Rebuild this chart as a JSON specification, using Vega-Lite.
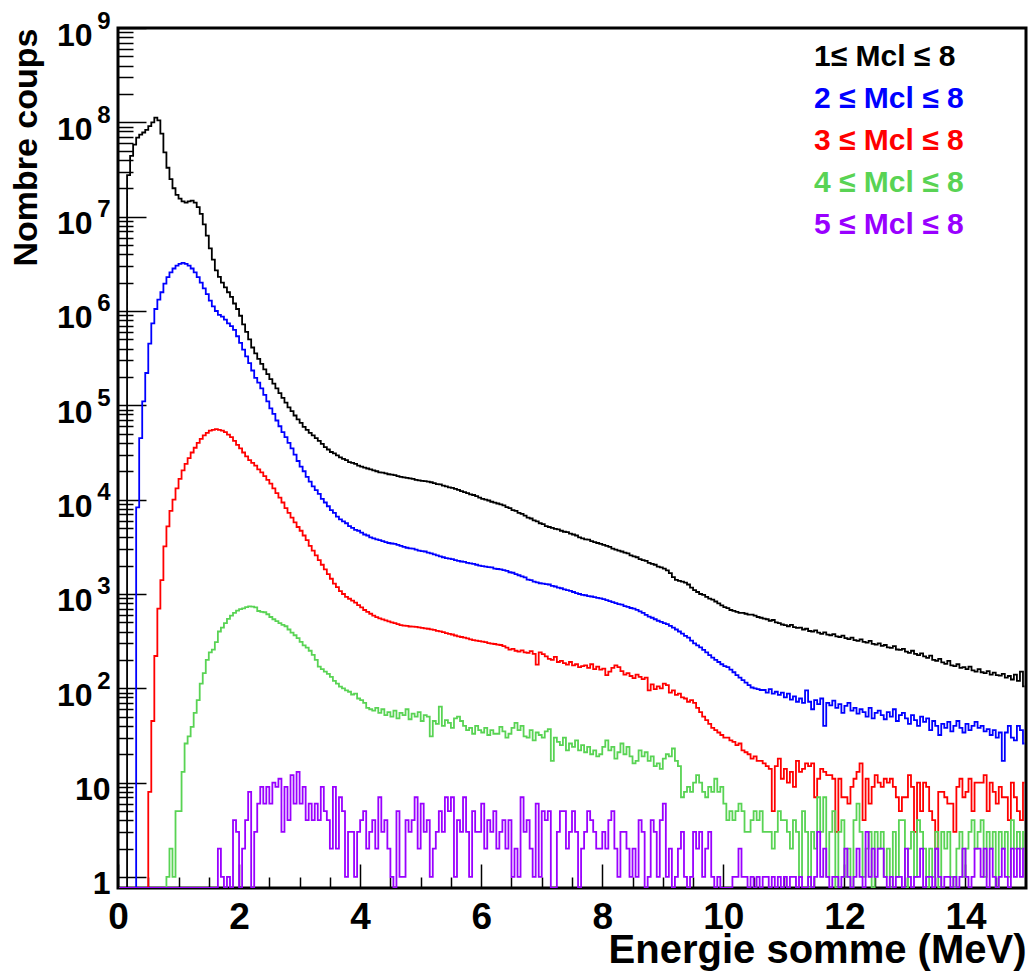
{
"$schema":"https://vega.github.io/schema/vega-lite/v6.json",
"width":908,"height":860,
"autosize":{"type":"none"},
"padding":{"left":118,"top":28,"right":4,"bottom":89},
"background":"white",
"config":{"view":{"stroke":"black","strokeWidth":3},"font":"Liberation Sans","axis":{"labelColor":"black","titleColor":"black","tickColor":"black","grid":false,"domain":false,"labelOverlap":false,"labelFlush":false}},
"data":{"values":[
{"e":0.025,"a":0,"b":0,"r":0,"g":0,"p":0},
{"e":0.075,"a":0,"b":0,"r":0,"g":0,"p":0},
{"e":0.125,"a":0,"b":0,"r":0,"g":0,"p":0},
{"e":0.175,"a":2.75e7,"b":0,"r":0,"g":0,"p":0},
{"e":0.225,"a":4.4e7,"b":0,"r":0,"g":0,"p":0},
{"e":0.275,"a":5.8e7,"b":0,"r":0,"g":0,"p":0},
{"e":0.325,"a":6.9e7,"b":8300,"r":0,"g":0,"p":0},
{"e":0.375,"a":7.4e7,"b":4.5e4,"r":0,"g":0,"p":0},
{"e":0.425,"a":7.8e7,"b":1.1e5,"r":0,"g":0,"p":0},
{"e":0.475,"a":8.3e7,"b":2.2e5,"r":0,"g":0,"p":0},
{"e":0.525,"a":9.1e7,"b":4.5e5,"r":8,"g":0,"p":0},
{"e":0.575,"a":1e8,"b":7.4e5,"r":45,"g":0,"p":0},
{"e":0.625,"a":1.12e8,"b":1.05e6,"r":220,"g":0,"p":0},
{"e":0.675,"a":1.05e8,"b":1.32e6,"r":700,"g":0,"p":0},
{"e":0.725,"a":7.6e7,"b":1.58e6,"r":1400,"g":0,"p":0},
{"e":0.775,"a":4.8e7,"b":1.95e6,"r":3200,"g":0,"p":0},
{"e":0.825,"a":3.3e7,"b":2.29e6,"r":5200,"g":1,"p":0},
{"e":0.875,"a":2.5e7,"b":2.57e6,"r":7600,"g":2,"p":0},
{"e":0.925,"a":2e7,"b":2.82e6,"r":1e4,"g":1,"p":0},
{"e":0.975,"a":1.7e7,"b":3.02e6,"r":1.32e4,"g":5,"p":0},
{"e":1.025,"a":1.55e7,"b":3.16e6,"r":1.66e4,"g":5,"p":0},
{"e":1.075,"a":1.45e7,"b":3.24e6,"r":2.04e4,"g":13,"p":0},
{"e":1.125,"a":1.41e7,"b":3.16e6,"r":2.4e4,"g":26,"p":0},
{"e":1.175,"a":1.45e7,"b":3.02e6,"r":2.75e4,"g":31,"p":0},
{"e":1.225,"a":1.48e7,"b":2.82e6,"r":3.16e4,"g":39,"p":0},
{"e":1.275,"a":1.41e7,"b":2.57e6,"r":3.55e4,"g":55,"p":0},
{"e":1.325,"a":1.26e7,"b":2.29e6,"r":4e4,"g":75,"p":0},
{"e":1.375,"a":1.07e7,"b":2e6,"r":4.4e4,"g":112,"p":0},
{"e":1.425,"a":8.3e6,"b":1.74e6,"r":4.8e4,"g":145,"p":0},
{"e":1.475,"a":6.3e6,"b":1.51e6,"r":5.1e4,"g":200,"p":0},
{"e":1.525,"a":4.6e6,"b":1.29e6,"r":5.4e4,"g":240,"p":0},
{"e":1.575,"a":3.5e6,"b":1.12e6,"r":5.5e4,"g":257,"p":0},
{"e":1.625,"a":2.7e6,"b":1e6,"r":5.6e4,"g":309,"p":0},
{"e":1.675,"a":2.3e6,"b":9.1e5,"r":5.5e4,"g":400,"p":2},
{"e":1.725,"a":2e6,"b":8.7e5,"r":5.4e4,"g":440,"p":1},
{"e":1.775,"a":1.78e6,"b":8.1e5,"r":5.2e4,"g":490,"p":0},
{"e":1.825,"a":1.58e6,"b":7.4e5,"r":4.9e4,"g":545,"p":1},
{"e":1.875,"a":1.41e6,"b":6.9e5,"r":4.6e4,"g":590,"p":0},
{"e":1.925,"a":1.2e6,"b":6.3e5,"r":4.2e4,"g":630,"p":4},
{"e":1.975,"a":1.05e6,"b":5.4e5,"r":3.8e4,"g":665,"p":3},
{"e":2.025,"a":8.9e5,"b":4.6e5,"r":3.5e4,"g":690,"p":0},
{"e":2.075,"a":7.2e5,"b":3.9e5,"r":3.16e4,"g":705,"p":2},
{"e":2.125,"a":6e5,"b":3.3e5,"r":2.88e4,"g":725,"p":4},
{"e":2.175,"a":5e5,"b":2.8e5,"r":2.63e4,"g":740,"p":8},
{"e":2.225,"a":4.1e5,"b":2.34e5,"r":2.45e4,"g":735,"p":0},
{"e":2.275,"a":3.55e5,"b":1.95e5,"r":2.29e4,"g":720,"p":3},
{"e":2.325,"a":3.1e5,"b":1.74e5,"r":2.09e4,"g":660,"p":6},
{"e":2.375,"a":2.75e5,"b":1.51e5,"r":1.95e4,"g":645,"p":9},
{"e":2.425,"a":2.4e5,"b":1.29e5,"r":1.78e4,"g":640,"p":6},
{"e":2.475,"a":2.14e5,"b":1.1e5,"r":1.62e4,"g":610,"p":9},
{"e":2.525,"a":1.9e5,"b":9.3e4,"r":1.48e4,"g":570,"p":6},
{"e":2.575,"a":1.7e5,"b":8.1e4,"r":1.32e4,"g":540,"p":10},
{"e":2.625,"a":1.51e5,"b":6.9e4,"r":1.17e4,"g":515,"p":9},
{"e":2.675,"a":1.35e5,"b":6e4,"r":1.05e4,"g":490,"p":11},
{"e":2.725,"a":1.2e5,"b":5.2e4,"r":9330,"g":470,"p":3},
{"e":2.775,"a":1.07e5,"b":4.6e4,"r":8130,"g":455,"p":9},
{"e":2.825,"a":9.5e4,"b":4e4,"r":7240,"g":420,"p":4},
{"e":2.875,"a":8.7e4,"b":3.5e4,"r":6460,"g":390,"p":12},
{"e":2.925,"a":7.8e4,"b":3e4,"r":5750,"g":365,"p":6},
{"e":2.975,"a":7.1e4,"b":2.57e4,"r":5130,"g":340,"p":13},
{"e":3.025,"a":6.5e4,"b":2.24e4,"r":4680,"g":310,"p":6},
{"e":3.075,"a":5.9e4,"b":2e4,"r":4170,"g":285,"p":9},
{"e":3.125,"a":5.5e4,"b":1.74e4,"r":3720,"g":270,"p":4},
{"e":3.175,"a":5.1e4,"b":1.55e4,"r":3240,"g":250,"p":6},
{"e":3.225,"a":4.8e4,"b":1.38e4,"r":2880,"g":226,"p":4},
{"e":3.275,"a":4.5e4,"b":1.26e4,"r":2570,"g":200,"p":6},
{"e":3.325,"a":4.2e4,"b":1.15e4,"r":2290,"g":170,"p":4},
{"e":3.375,"a":3.9e4,"b":1.02e4,"r":2040,"g":160,"p":9},
{"e":3.425,"a":3.6e4,"b":9330,"r":1820,"g":150,"p":5},
{"e":3.475,"a":3.4e4,"b":8510,"r":1620,"g":142,"p":4},
{"e":3.525,"a":3.2e4,"b":7760,"r":1450,"g":132,"p":2},
{"e":3.575,"a":3.1e4,"b":7240,"r":1290,"g":120,"p":9},
{"e":3.625,"a":2.95e4,"b":6610,"r":1180,"g":112,"p":2},
{"e":3.675,"a":2.8e4,"b":6170,"r":1070,"g":104,"p":7},
{"e":3.725,"a":2.7e4,"b":5890,"r":1000,"g":100,"p":5},
{"e":3.775,"a":2.63e4,"b":5620,"r":930,"g":95,"p":1},
{"e":3.825,"a":2.5e4,"b":5250,"r":890,"g":92,"p":3},
{"e":3.875,"a":2.45e4,"b":5010,"r":850,"g":86,"p":3},
{"e":3.925,"a":2.4e4,"b":4790,"r":810,"g":88,"p":1},
{"e":3.975,"a":2.3e4,"b":4680,"r":760,"g":78,"p":3},
{"e":4.025,"a":2.24e4,"b":4470,"r":720,"g":75,"p":4},
{"e":4.075,"a":2.19e4,"b":4270,"r":676,"g":70,"p":5},
{"e":4.125,"a":2.14e4,"b":4170,"r":646,"g":62,"p":2},
{"e":4.175,"a":2.09e4,"b":3980,"r":617,"g":60,"p":3},
{"e":4.225,"a":2.04e4,"b":3890,"r":589,"g":58,"p":4},
{"e":4.275,"a":2e4,"b":3800,"r":569,"g":62,"p":2},
{"e":4.325,"a":1.95e4,"b":3720,"r":550,"g":55,"p":7},
{"e":4.375,"a":1.93e4,"b":3630,"r":537,"g":60,"p":3},
{"e":4.425,"a":1.9e4,"b":3550,"r":525,"g":52,"p":4},
{"e":4.475,"a":1.86e4,"b":3470,"r":513,"g":56,"p":2},
{"e":4.525,"a":1.84e4,"b":3430,"r":501,"g":50,"p":1},
{"e":4.575,"a":1.82e4,"b":3390,"r":490,"g":58,"p":0},
{"e":4.625,"a":1.78e4,"b":3310,"r":479,"g":48,"p":5},
{"e":4.675,"a":1.74e4,"b":3240,"r":468,"g":55,"p":1},
{"e":4.725,"a":1.72e4,"b":3160,"r":462,"g":52,"p":1},
{"e":4.775,"a":1.7e4,"b":3090,"r":458,"g":60,"p":4},
{"e":4.825,"a":1.68e4,"b":3050,"r":452,"g":47,"p":3},
{"e":4.875,"a":1.66e4,"b":3020,"r":450,"g":54,"p":4},
{"e":4.925,"a":1.62e4,"b":2950,"r":447,"g":50,"p":7},
{"e":4.975,"a":1.6e4,"b":2880,"r":442,"g":56,"p":2},
{"e":5.025,"a":1.58e4,"b":2850,"r":437,"g":45,"p":6},
{"e":5.075,"a":1.57e4,"b":2820,"r":432,"g":52,"p":3},
{"e":5.125,"a":1.55e4,"b":2750,"r":428,"g":50,"p":4},
{"e":5.175,"a":1.53e4,"b":2690,"r":422,"g":31,"p":1},
{"e":5.225,"a":1.5e4,"b":2630,"r":417,"g":45,"p":2},
{"e":5.275,"a":1.46e4,"b":2570,"r":407,"g":42,"p":3},
{"e":5.325,"a":1.45e4,"b":2510,"r":402,"g":64,"p":5},
{"e":5.375,"a":1.41e4,"b":2450,"r":395,"g":40,"p":3},
{"e":5.425,"a":1.38e4,"b":2400,"r":385,"g":46,"p":7},
{"e":5.475,"a":1.35e4,"b":2370,"r":378,"g":43,"p":5},
{"e":5.525,"a":1.33e4,"b":2340,"r":372,"g":38,"p":7},
{"e":5.575,"a":1.3e4,"b":2290,"r":363,"g":48,"p":1},
{"e":5.625,"a":1.27e4,"b":2240,"r":355,"g":50,"p":4},
{"e":5.675,"a":1.23e4,"b":2210,"r":350,"g":45,"p":3},
{"e":5.725,"a":1.2e4,"b":2190,"r":345,"g":40,"p":7},
{"e":5.775,"a":1.17e4,"b":2140,"r":339,"g":36,"p":3},
{"e":5.825,"a":1.14e4,"b":2110,"r":331,"g":38,"p":1},
{"e":5.875,"a":1.12e4,"b":2090,"r":325,"g":33,"p":5},
{"e":5.925,"a":1.09e4,"b":2040,"r":320,"g":40,"p":3},
{"e":5.975,"a":1.05e4,"b":2000,"r":316,"g":36,"p":3},
{"e":6.025,"a":1.02e4,"b":1970,"r":313,"g":34,"p":6},
{"e":6.075,"a":1e4,"b":1950,"r":309,"g":38,"p":2},
{"e":6.125,"a":9800,"b":1930,"r":302,"g":32,"p":4},
{"e":6.175,"a":9500,"b":1910,"r":298,"g":36,"p":3},
{"e":6.225,"a":9300,"b":1860,"r":295,"g":33,"p":5},
{"e":6.275,"a":9100,"b":1840,"r":291,"g":33,"p":2},
{"e":6.325,"a":8900,"b":1820,"r":288,"g":39,"p":3},
{"e":6.375,"a":8710,"b":1790,"r":280,"g":35,"p":4},
{"e":6.425,"a":8320,"b":1760,"r":270,"g":30,"p":2},
{"e":6.475,"a":8130,"b":1700,"r":257,"g":33,"p":4},
{"e":6.525,"a":7760,"b":1680,"r":262,"g":38,"p":1},
{"e":6.575,"a":7590,"b":1620,"r":250,"g":43,"p":2},
{"e":6.625,"a":7240,"b":1580,"r":245,"g":36,"p":1},
{"e":6.675,"a":7080,"b":1540,"r":252,"g":40,"p":7},
{"e":6.725,"a":6760,"b":1500,"r":240,"g":31,"p":3},
{"e":6.775,"a":6460,"b":1420,"r":238,"g":30,"p":4},
{"e":6.825,"a":6310,"b":1400,"r":248,"g":36,"p":2},
{"e":6.875,"a":6030,"b":1350,"r":232,"g":28,"p":1},
{"e":6.925,"a":5890,"b":1330,"r":178,"g":34,"p":6},
{"e":6.975,"a":5620,"b":1300,"r":240,"g":32,"p":1},
{"e":7.025,"a":5500,"b":1290,"r":230,"g":30,"p":5},
{"e":7.075,"a":5250,"b":1270,"r":218,"g":35,"p":4},
{"e":7.125,"a":5130,"b":1260,"r":205,"g":37,"p":5},
{"e":7.175,"a":5010,"b":1220,"r":200,"g":17,"p":0},
{"e":7.225,"a":4900,"b":1200,"r":215,"g":30,"p":0},
{"e":7.275,"a":4850,"b":1170,"r":190,"g":27,"p":3},
{"e":7.325,"a":4680,"b":1150,"r":195,"g":25,"p":5},
{"e":7.375,"a":4570,"b":1120,"r":185,"g":30,"p":5},
{"e":7.425,"a":4520,"b":1100,"r":178,"g":22,"p":2},
{"e":7.475,"a":4370,"b":1080,"r":190,"g":26,"p":3},
{"e":7.525,"a":4270,"b":1050,"r":175,"g":24,"p":5},
{"e":7.575,"a":4170,"b":1020,"r":180,"g":28,"p":3},
{"e":7.625,"a":3980,"b":1000,"r":168,"g":22,"p":0},
{"e":7.675,"a":3890,"b":980,"r":172,"g":25,"p":2},
{"e":7.725,"a":3800,"b":970,"r":175,"g":21,"p":3},
{"e":7.775,"a":3760,"b":950,"r":165,"g":24,"p":5},
{"e":7.825,"a":3630,"b":940,"r":180,"g":20,"p":4},
{"e":7.875,"a":3550,"b":925,"r":160,"g":22,"p":3},
{"e":7.925,"a":3470,"b":910,"r":170,"g":19,"p":2},
{"e":7.975,"a":3390,"b":900,"r":158,"g":20,"p":2},
{"e":8.025,"a":3310,"b":880,"r":162,"g":24,"p":3},
{"e":8.075,"a":3240,"b":860,"r":138,"g":28,"p":2},
{"e":8.125,"a":3160,"b":840,"r":150,"g":22,"p":4},
{"e":8.175,"a":3020,"b":820,"r":165,"g":24,"p":5},
{"e":8.225,"a":2950,"b":800,"r":175,"g":18,"p":2},
{"e":8.275,"a":2880,"b":780,"r":168,"g":21,"p":1},
{"e":8.325,"a":2820,"b":770,"r":152,"g":26,"p":3},
{"e":8.375,"a":2750,"b":745,"r":140,"g":20,"p":3},
{"e":8.425,"a":2690,"b":730,"r":145,"g":24,"p":2},
{"e":8.475,"a":2570,"b":710,"r":135,"g":19,"p":1},
{"e":8.525,"a":2510,"b":700,"r":128,"g":16,"p":2},
{"e":8.575,"a":2450,"b":680,"r":140,"g":17,"p":1},
{"e":8.625,"a":2340,"b":655,"r":132,"g":22,"p":4},
{"e":8.675,"a":2290,"b":630,"r":125,"g":19,"p":3},
{"e":8.725,"a":2240,"b":600,"r":130,"g":21,"p":0},
{"e":8.775,"a":2140,"b":575,"r":95,"g":17,"p":1},
{"e":8.825,"a":2090,"b":560,"r":110,"g":19,"p":4},
{"e":8.875,"a":2040,"b":540,"r":98,"g":15,"p":3},
{"e":8.925,"a":1950,"b":520,"r":105,"g":16,"p":1},
{"e":8.975,"a":1910,"b":505,"r":100,"g":14,"p":4},
{"e":9.025,"a":1860,"b":490,"r":112,"g":18,"p":6},
{"e":9.075,"a":1780,"b":480,"r":108,"g":20,"p":1},
{"e":9.125,"a":1660,"b":460,"r":90,"g":19,"p":2},
{"e":9.175,"a":1510,"b":440,"r":95,"g":23,"p":0},
{"e":9.225,"a":1410,"b":420,"r":85,"g":17,"p":1},
{"e":9.275,"a":1380,"b":400,"r":88,"g":15,"p":2},
{"e":9.325,"a":1350,"b":380,"r":80,"g":7,"p":3},
{"e":9.375,"a":1320,"b":360,"r":78,"g":8,"p":1},
{"e":9.425,"a":1260,"b":345,"r":72,"g":9,"p":0},
{"e":9.475,"a":1170,"b":320,"r":75,"g":8,"p":1},
{"e":9.525,"a":1100,"b":300,"r":70,"g":10,"p":3},
{"e":9.575,"a":1050,"b":285,"r":62,"g":12,"p":2},
{"e":9.625,"a":1000,"b":272,"r":56,"g":10,"p":3},
{"e":9.675,"a":977,"b":255,"r":50,"g":8,"p":1},
{"e":9.725,"a":933,"b":240,"r":46,"g":7,"p":2},
{"e":9.775,"a":891,"b":225,"r":42,"g":9,"p":3},
{"e":9.825,"a":871,"b":212,"r":38,"g":8,"p":1},
{"e":9.875,"a":832,"b":200,"r":36,"g":11,"p":0},
{"e":9.925,"a":794,"b":190,"r":34,"g":8,"p":1},
{"e":9.975,"a":759,"b":180,"r":32,"g":9,"p":0},
{"e":10.025,"a":724,"b":172,"r":30,"g":6,"p":0},
{"e":10.075,"a":708,"b":168,"r":30,"g":4,"p":0},
{"e":10.125,"a":676,"b":158,"r":28,"g":5,"p":0},
{"e":10.175,"a":661,"b":148,"r":27,"g":4,"p":1},
{"e":10.225,"a":646,"b":138,"r":25,"g":5,"p":1},
{"e":10.275,"a":631,"b":130,"r":26,"g":6,"p":2},
{"e":10.325,"a":631,"b":122,"r":22,"g":5,"p":1},
{"e":10.375,"a":617,"b":115,"r":21,"g":3,"p":1},
{"e":10.425,"a":603,"b":108,"r":20,"g":3,"p":0},
{"e":10.475,"a":603,"b":102,"r":18,"g":4,"p":1},
{"e":10.525,"a":589,"b":100,"r":19,"g":5,"p":0},
{"e":10.575,"a":570,"b":98,"r":17,"g":4,"p":1},
{"e":10.625,"a":560,"b":96,"r":17,"g":5,"p":0},
{"e":10.675,"a":548,"b":96,"r":16,"g":3,"p":1},
{"e":10.725,"a":540,"b":90,"r":15,"g":3,"p":1},
{"e":10.775,"a":520,"b":98,"r":14,"g":3,"p":0},
{"e":10.825,"a":530,"b":88,"r":5,"g":2,"p":1},
{"e":10.875,"a":500,"b":92,"r":15,"g":3,"p":0},
{"e":10.925,"a":490,"b":85,"r":18,"g":5,"p":1},
{"e":10.975,"a":475,"b":90,"r":11,"g":4,"p":0},
{"e":11.025,"a":468,"b":80,"r":14,"g":4,"p":1},
{"e":11.075,"a":455,"b":88,"r":10,"g":3,"p":0},
{"e":11.125,"a":470,"b":76,"r":13,"g":2,"p":1},
{"e":11.175,"a":445,"b":82,"r":9,"g":4,"p":1},
{"e":11.225,"a":438,"b":72,"r":17,"g":3,"p":0},
{"e":11.275,"a":440,"b":78,"r":13,"g":1,"p":1},
{"e":11.325,"a":420,"b":70,"r":14,"g":5,"p":0},
{"e":11.375,"a":428,"b":95,"r":16,"g":3,"p":0},
{"e":11.425,"a":405,"b":72,"r":15,"g":0,"p":1},
{"e":11.475,"a":400,"b":60,"r":16,"g":3,"p":0},
{"e":11.525,"a":412,"b":75,"r":7,"g":2,"p":1},
{"e":11.575,"a":390,"b":68,"r":11,"g":7,"p":3},
{"e":11.625,"a":378,"b":78,"r":14,"g":3,"p":1},
{"e":11.675,"a":392,"b":40,"r":13,"g":7,"p":2},
{"e":11.725,"a":370,"b":70,"r":12,"g":1,"p":1},
{"e":11.775,"a":365,"b":66,"r":12,"g":3,"p":0},
{"e":11.825,"a":375,"b":74,"r":11,"g":5,"p":1},
{"e":11.875,"a":355,"b":62,"r":3,"g":0,"p":1},
{"e":11.925,"a":350,"b":68,"r":11,"g":3,"p":0},
{"e":11.975,"a":362,"b":55,"r":7,"g":4,"p":1},
{"e":12.025,"a":340,"b":65,"r":7,"g":1,"p":2},
{"e":12.075,"a":332,"b":70,"r":6,"g":2,"p":1},
{"e":12.125,"a":345,"b":58,"r":9,"g":0,"p":0},
{"e":12.175,"a":325,"b":62,"r":11,"g":4,"p":1},
{"e":12.225,"a":318,"b":54,"r":13,"g":6,"p":2},
{"e":12.275,"a":330,"b":60,"r":16,"g":3,"p":1},
{"e":12.325,"a":310,"b":56,"r":4,"g":1,"p":0},
{"e":12.375,"a":305,"b":50,"r":11,"g":2,"p":3},
{"e":12.425,"a":318,"b":62,"r":6,"g":3,"p":1},
{"e":12.475,"a":296,"b":48,"r":9,"g":0,"p":2},
{"e":12.525,"a":290,"b":55,"r":12,"g":3,"p":1},
{"e":12.575,"a":300,"b":58,"r":10,"g":2,"p":2},
{"e":12.625,"a":282,"b":52,"r":9,"g":3,"p":2},
{"e":12.675,"a":288,"b":47,"r":11,"g":1,"p":1},
{"e":12.725,"a":272,"b":56,"r":10,"g":2,"p":0},
{"e":12.775,"a":268,"b":50,"r":11,"g":0,"p":1},
{"e":12.825,"a":280,"b":60,"r":9,"g":3,"p":0},
{"e":12.875,"a":258,"b":45,"r":7,"g":1,"p":1},
{"e":12.925,"a":255,"b":52,"r":5,"g":4,"p":1},
{"e":12.975,"a":262,"b":55,"r":7,"g":4,"p":0},
{"e":13.025,"a":245,"b":48,"r":7,"g":0,"p":2},
{"e":13.075,"a":238,"b":42,"r":12,"g":2,"p":1},
{"e":13.125,"a":250,"b":52,"r":9,"g":3,"p":0},
{"e":13.175,"a":232,"b":46,"r":3,"g":1,"p":1},
{"e":13.225,"a":225,"b":40,"r":10,"g":4,"p":1},
{"e":13.275,"a":235,"b":50,"r":5,"g":3,"p":2},
{"e":13.325,"a":218,"b":44,"r":10,"g":2,"p":0},
{"e":13.375,"a":210,"b":48,"r":9,"g":0,"p":1},
{"e":13.425,"a":222,"b":36,"r":5,"g":2,"p":1},
{"e":13.475,"a":200,"b":45,"r":4,"g":1,"p":0},
{"e":13.525,"a":196,"b":40,"r":2,"g":3,"p":2},
{"e":13.575,"a":205,"b":32,"r":8,"g":0,"p":1},
{"e":13.625,"a":188,"b":42,"r":8,"g":3,"p":0},
{"e":13.675,"a":182,"b":38,"r":7,"g":2,"p":1},
{"e":13.725,"a":195,"b":44,"r":6,"g":3,"p":1},
{"e":13.775,"a":175,"b":35,"r":6,"g":1,"p":0},
{"e":13.825,"a":172,"b":40,"r":3,"g":0,"p":1},
{"e":13.875,"a":180,"b":45,"r":9,"g":2,"p":0},
{"e":13.925,"a":165,"b":38,"r":11,"g":3,"p":1},
{"e":13.975,"a":168,"b":34,"r":7,"g":1,"p":2},
{"e":14.025,"a":160,"b":42,"r":8,"g":2,"p":1},
{"e":14.075,"a":170,"b":36,"r":11,"g":3,"p":0},
{"e":14.125,"a":155,"b":40,"r":5,"g":4,"p":1},
{"e":14.175,"a":150,"b":44,"r":10,"g":2,"p":2},
{"e":14.225,"a":160,"b":38,"r":10,"g":3,"p":2},
{"e":14.275,"a":148,"b":40,"r":10,"g":4,"p":1},
{"e":14.325,"a":145,"b":35,"r":12,"g":1,"p":2},
{"e":14.375,"a":152,"b":37,"r":5,"g":3,"p":0},
{"e":14.425,"a":140,"b":32,"r":10,"g":2,"p":2},
{"e":14.475,"a":147,"b":36,"r":8,"g":3,"p":1},
{"e":14.525,"a":138,"b":30,"r":6,"g":0,"p":0},
{"e":14.575,"a":136,"b":34,"r":9,"g":3,"p":1},
{"e":14.625,"a":142,"b":17,"r":7,"g":2,"p":2},
{"e":14.675,"a":130,"b":34,"r":7,"g":3,"p":1},
{"e":14.725,"a":135,"b":40,"r":4,"g":1,"p":0},
{"e":14.775,"a":124,"b":30,"r":10,"g":4,"p":2},
{"e":14.825,"a":140,"b":28,"r":7,"g":2,"p":1},
{"e":14.875,"a":120,"b":40,"r":5,"g":3,"p":2},
{"e":14.925,"a":150,"b":36,"r":4,"g":2,"p":1},
{"e":14.975,"a":105,"b":26,"r":10,"g":3,"p":2}
]},
"layer":[
{"transform":[{"fold":["a","b","r","g","p"],"as":["s","n"]}],
 "mark":{"type":"line","interpolate":"step","strokeWidth":1.8,"clip":true,"invalid":"show"},
 "encoding":{
 "x":{"field":"e","type":"quantitative","scale":{"domain":[0,15],"nice":false,"zero":false},
  "axis":{"orient":"bottom","values":[0,2,4,6,8,10,12,14],"format":"d",
   "title":"Energie somme (MeV)","titleFontSize":40,"titleFontWeight":"bold","titleAlign":"right","titleAnchor":"end","titleX":908,"titleY":74,"titleBaseline":"alphabetic",
   "labelFontSize":37,"labelFontWeight":"bold","labelPadding":35,"tickSize":-24,"tickWidth":1.5}},
 "y":{"field":"n","type":"quantitative","scale":{"type":"log","domain":[0.764,1e9],"nice":false,"clamp":true},
  "axis":{"orient":"left","values":[1,10,100,1000,10000,100000,1000000,10000000,100000000,1000000000],
   "title":"Nombre coups","titleFontSize":34,"titleFontWeight":"bold","titleAngle":-90,"titleAlign":"right","titleX":-82,"titleY":0,"titleBaseline":"alphabetic",
   "labelExpr":"datum.value == 1 ? '1' : datum.value == 10 ? '10' : ''",
   "labelFontSize":32,"labelFontWeight":"bold","labelPadding":36,"labelOffset":7,"labelBaseline":"middle","labelAlign":"right","tickSize":-28,"tickWidth":1.5}},
 "color":{"field":"s","type":"nominal",
  "scale":{"domain":["a","b","r","g","p"],"range":["#000000","#0000ff","#ff0000","#59d354","#9900ff"]},
  "legend":{"orient":"none","legendX":666,"legendY":14,"title":null,"padding":0,
   "labelExpr":"{'a':'1≤ Mcl ≤ 8','b':'2 ≤ Mcl ≤ 8','r':'3 ≤ Mcl ≤ 8','g':'4 ≤ Mcl ≤ 8','p':'5 ≤ Mcl ≤ 8'}[datum.value]",
   "labelFontSize":30,"labelFontWeight":"bold","labelLimit":400,"labelOffset":0,"rowPadding":12,
   "symbolSize":0,"symbolStrokeWidth":0,"symbolOpacity":0,
   "encode":{"labels":{"update":{"fill":{"signal":"scale('color', datum.value)"}}}}}}}},
{"mark":{"type":"line","opacity":0},
 "encoding":{
 "x":{"field":"e","type":"quantitative","scale":{"domain":[0,15],"nice":false,"zero":false},
  "axis":{"orient":"bottom","values":[0.5,1,1.5,2.5,3,3.5,4.5,5,5.5,6.5,7,7.5,8.5,9,9.5,10.5,11,11.5,12.5,13,13.5,14.5],"labels":false,"title":null,"tickSize":-11,"tickWidth":1.5}},
 "y":{"field":"a","type":"quantitative","scale":{"type":"log","domain":[0.764,1e9],"nice":false,"clamp":true},
  "axis":{"orient":"left","values":[2,3,4,5,6,7,8,9,20,30,40,50,60,70,80,90,200,300,400,500,600,700,800,900,2000,3000,4000,5000,6000,7000,8000,9000,20000,30000,40000,50000,60000,70000,80000,90000,200000,300000,400000,500000,600000,700000,800000,900000,2000000,3000000,4000000,5000000,6000000,7000000,8000000,9000000,20000000,30000000,40000000,50000000,60000000,70000000,80000000,90000000,200000000,300000000,400000000,500000000,600000000,700000000,800000000,900000000],"labels":false,"title":null,"tickSize":-15,"tickWidth":1.5}}}},
{"mark":{"type":"line","opacity":0},
 "encoding":{
 "x":{"field":"e","type":"quantitative","scale":{"domain":[0,15],"nice":false,"zero":false},"axis":null},
 "y":{"field":"a","type":"quantitative","scale":{"type":"log","domain":[0.764,1e9],"nice":false,"clamp":true},
  "axis":{"orient":"left","values":[100,1000,10000,100000,1000000,10000000,100000000,1000000000],"ticks":false,"title":null,
   "labelExpr":"'10'","labelFontSize":32,"labelFontWeight":"bold","labelPadding":26,"labelOffset":7,"labelBaseline":"middle","labelAlign":"right"}}}},
{"mark":{"type":"line","opacity":0},
 "encoding":{
 "x":{"field":"e","type":"quantitative","scale":{"domain":[0,15],"nice":false,"zero":false},"axis":null},
 "y":{"field":"a","type":"quantitative","scale":{"type":"log","domain":[0.764,1e9],"nice":false,"clamp":true},
  "axis":{"orient":"left","values":[100,1000,10000,100000,1000000,10000000,100000000,1000000000],"ticks":false,"title":null,
   "labelExpr":"format(round(log(datum.value)/LN10), 'd')","labelFontSize":24,"labelFontWeight":"bold","labelPadding":8,"labelOffset":-7,"labelBaseline":"middle","labelAlign":"right"}}}}
],
"resolve":{"axis":{"x":"independent","y":"independent"}}
}
